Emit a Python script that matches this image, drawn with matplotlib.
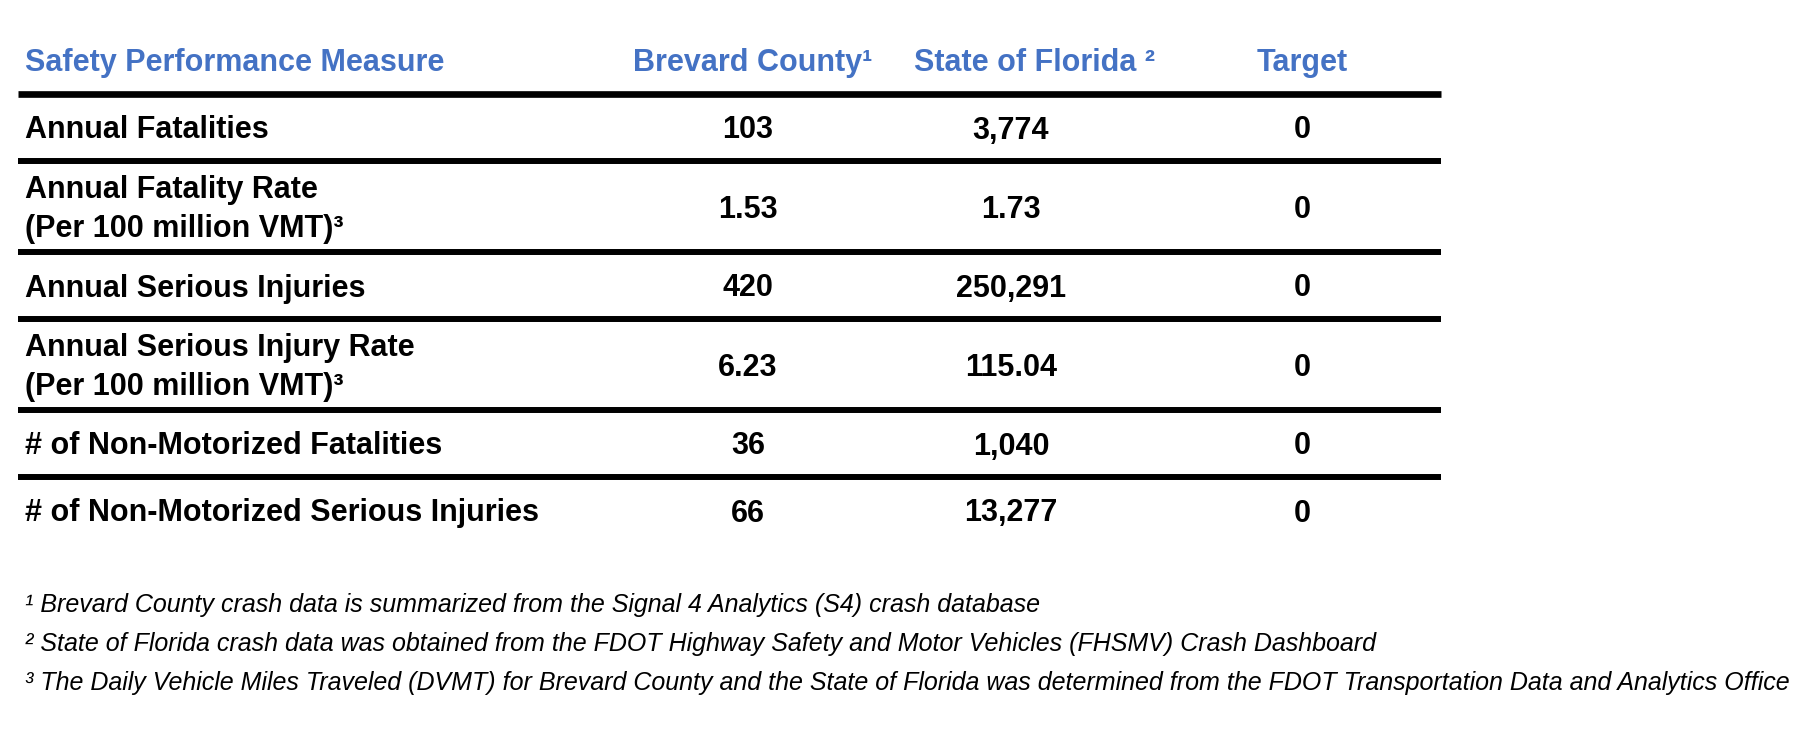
import matplotlib
matplotlib.use("Agg")
from matplotlib import pyplot as plt

plt.rcParams['font.family'] = ['Liberation Sans', 'DejaVu Sans']

# Du lieu bang
headers = ["Safety Performance Measure", "Brevard County\u00b9", "State of Florida \u00b2", "Target"]
measures = ["Annual Fatalities",
            "Annual Fatality Rate\n(Per 100 million VMT)\u00b3",
            "Annual Serious Injuries",
            "Annual Serious Injury Rate\n(Per 100 million VMT)\u00b3",
            "# of Non-Motorized Fatalities",
            "# of Non-Motorized Serious Injuries"]
brevard = [103, 1.53, 420, 6.23, 36, 66]
florida = [3774, 1.73, 250291, 115.04, 1040, 13277]
target = [0, 0, 0, 0, 0, 0]
footnotes = ["\u00b9 Brevard County crash data is summarized from the Signal 4 Analytics (S4) crash database",
             "\u00b2 State of Florida crash data was obtained from the FDOT Highway Safety and Motor Vehicles (FHSMV) Crash Dashboard",
             "\u00b3 The Daily Vehicle Miles Traveled (DVMT) for Brevard County and the State of Florida was determined from the FDOT Transportation Data and Analytics Office"]


def fmt(v):
    if isinstance(v, float):
        return f"{v:.2f}"
    return f"{v:,}"


W, H = 1812, 743
fig = plt.figure(figsize=(W / 100, H / 100), dpi=100)
ax = fig.add_axes([0, 0, 1, 1])
ax.set_xlim(0, W)
ax.set_ylim(H, 0)
ax.axis('off')

blue = '#4472C4'
fs = 22
x_left = 25
x_line0, x_line1 = 18, 1441
header_x = [x_left, 753, 1034, 1302]
col_x = [748, 1011, 1302]

# tieu de
header_y = 63
ax.text(header_x[0], header_y, headers[0], color=blue, fontsize=fs, fontweight='bold', ha='left', va='center')
for hx, h in zip(header_x[1:], headers[1:]):
    ax.text(hx, header_y, h, color=blue, fontsize=fs, fontweight='bold', ha='center', va='center')

# cac dong
y = 94
ax.plot([x_line0, x_line1], [y, y], color='black', lw=4.8, solid_capstyle='butt')
for i, m in enumerate(measures):
    h = 91 if '\n' in m else 67
    yc = y + h / 2 + 3
    ax.text(x_left, yc, m, fontsize=fs, fontweight='bold', ha='left', va='center', linespacing=1.38)
    for cx, vals in zip(col_x, [brevard, florida, target]):
        ax.text(cx, yc, fmt(vals[i]), fontsize=fs, fontweight='bold', ha='center', va='center')
    y += h
    if i < len(measures) - 1:
        ax.plot([x_line0, x_line1], [y, y], color='black', lw=4.3, solid_capstyle='butt')

# chu thich
for k, note in enumerate(footnotes):
    ax.text(x_left, 605 + k * 39, note, fontsize=18, fontstyle='italic', ha='left', va='center')

fig.savefig('out.png', dpi=100)
